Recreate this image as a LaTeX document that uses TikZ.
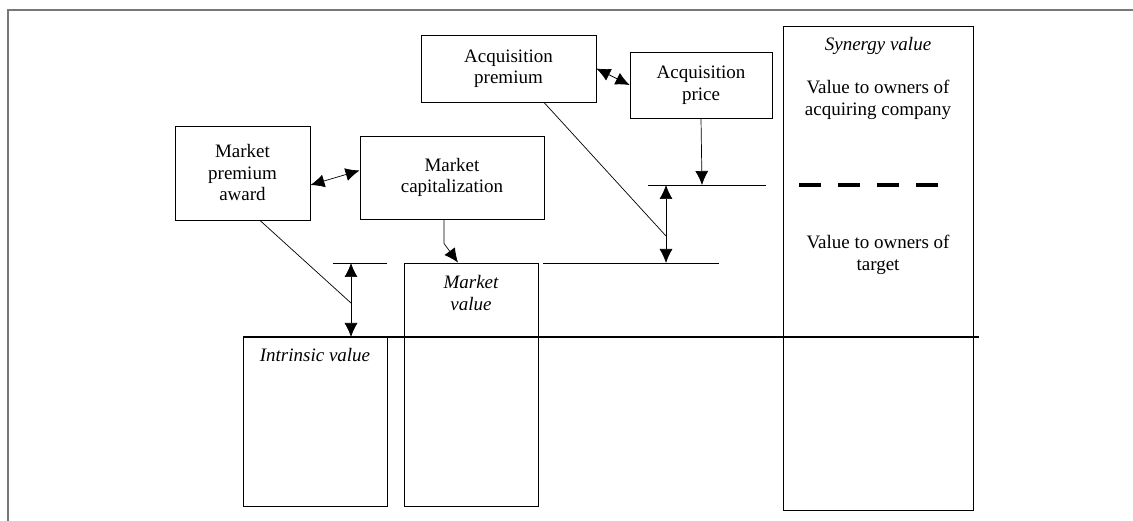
\documentclass[tikz,border=0pt]{standalone}
\usepackage{fontspec}
\setmainfont{Liberation Serif}
\usetikzlibrary{arrows.meta,positioning,calc}
\definecolor{framegray}{RGB}{120,120,120}

\begin{document}
\begin{tikzpicture}[x=1pt, y=-1pt,
    box/.style={draw, line width=0.9pt, align=center, inner sep=0pt, font=\fontsize{19}{21.5}\selectfont},
    tag/.style={align=center, inner sep=0pt, font=\fontsize{19}{21.5}\selectfont},
    level/.style={line width=0.9pt},
    tip/.style={-{Latex[length=14pt,width=13pt]}, line width=0.7pt},
    dtip/.style={{Latex[length=14pt,width=13pt]}-{Latex[length=14pt,width=13pt]}, line width=0.7pt}]
    \useasboundingbox (0,0) rectangle (1133,521);
    \draw[framegray, line width=1.2pt] (8,521) -- (8,10) -- (1133,10);

    \node[box, minimum width=175pt, minimum height=67pt] (premium) at (508.5,68.5) {Acquisition\\premium};
    \node[box, minimum width=142pt, minimum height=66pt] (price) at (701,85) {Acquisition\\price};
    \node[box, minimum width=135pt, minimum height=94pt] (award) at (242.5,173) {Market\\premium\\award};
    \node[box, minimum width=184pt, minimum height=83pt] (cap) at (452,177.5) {Market\\capitalization};
    \node[box, minimum width=190pt, minimum height=484pt] (synergy) at (878,268) {};
    \node[box, minimum width=144pt, minimum height=169pt] (intrinsic) at (315,421.5) {};
    \node[box, minimum width=134pt, minimum height=243pt] (mval) at (471,384.5) {};

    \node[tag, font=\fontsize{19}{21.5}\selectfont\itshape, below=12pt of synergy.north] (syntitle) {Synergy value};
    \node[tag, below=25pt of syntitle] (acqowners) {Value to owners of\\acquiring company};
    \node[tag] (tgtowners) at (878,255) {Value to owners of\\target};
    \node[tag, font=\fontsize{19}{21.5}\selectfont\itshape, below=12pt of intrinsic.north] (intrlabel) {Intrinsic value};
    \node[tag, font=\fontsize{19}{21.5}\selectfont\itshape, below=13pt of mval.north] (mvallabel) {Market\\value};

    \draw[line width=4pt, dash pattern=on 22pt off 17pt] (799,185) -- (940,185);

    \coordinate (lowL) at (243,337);
    \coordinate (lowR) at (979,337);
    \coordinate (t1) at (351,263);
    \coordinate (b1) at (351,337);
    \coordinate (m1) at (351,303);
    \coordinate (t2) at (666,185);
    \coordinate (b2) at (666,263);
    \coordinate (m2) at (666,236);
    \coordinate (p2) at (702,185);

    \draw[line width=2pt] (lowL) -- (lowR);
    \draw[level] (333,263) -- (387,263);
    \draw[level] (543,263) -- (719,263);
    \draw[level] (648,185) -- (766,185);

    \draw[dtip] (t1) -- (b1);
    \draw[dtip] (t2) -- (b2);
    \draw[line width=0.7pt] ($(award.south)+(17.5,0)$) -- (m1);
    \draw[line width=0.7pt] ($(premium.south)+(35.5,0)$) -- (m2);
    \draw[tip] (price.south) -- (p2);
    \draw[tip] ($(cap.south)+(-8,0)$) -- ++(0,24) -- ($(mval.north)+(-13,0)$);
    \draw[dtip] ($(award.east)+(0,12)$) -- ($(cap.west)+(0,-7)$);
    \draw[dtip] (premium.east) -- (price.west);
\end{tikzpicture}
\end{document}
